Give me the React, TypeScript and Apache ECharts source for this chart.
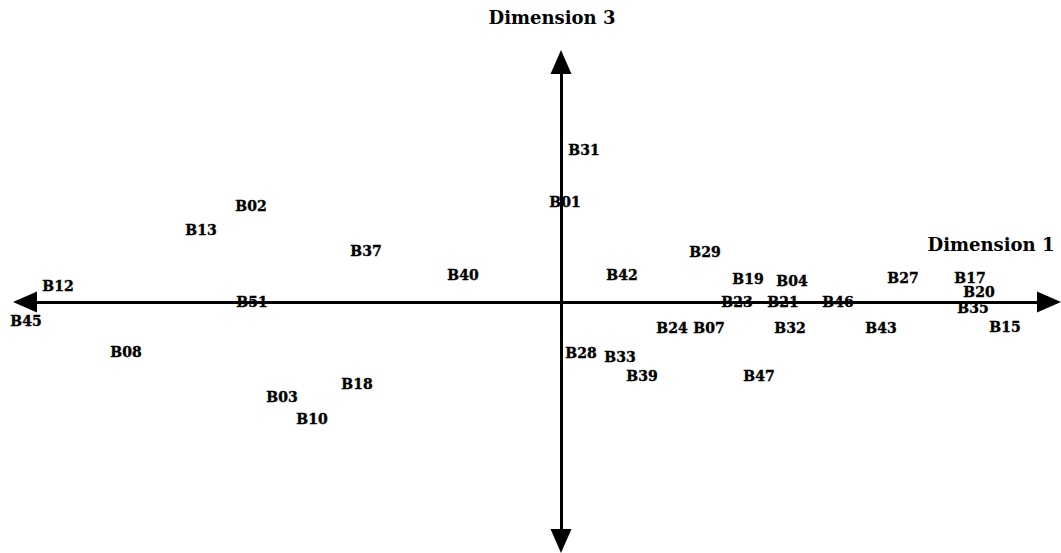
import React, { useEffect, useRef } from "react";
import * as echarts from "echarts";

// Brand labels and their coordinates on Dimension 1 (x) and Dimension 3 (y)
const names = [
  "B12", "B45", "B51", "B08", "B02", "B13", "B37", "B40", "B18", "B03", "B10",
  "B31", "B01", "B42", "B29", "B19", "B04", "B23", "B21", "B46", "B27", "B17",
  "B20", "B35", "B15", "B43", "B32", "B07", "B24", "B28", "B33", "B39", "B47",
];
const dim1 = [
  -5.03, -5.35, -3.09, -4.35, -3.1, -3.6, -1.95, -0.98, -2.04, -2.79, -2.49,
  0.23, 0.04, 0.61, 1.44, 1.87, 2.31, 1.76, 2.22, 2.77, 3.42, 4.09,
  4.18, 4.12, 4.44, 3.2, 2.29, 1.48, 1.11, 0.2, 0.59, 0.81, 1.98,
];
const dim3 = [
  0.16, -0.19, 0.0, -0.5, 0.96, 0.72, 0.51, 0.27, -0.82, -0.95, -1.17,
  1.52, 1.0, 0.27, 0.5, 0.23, 0.21, 0.0, 0.0, 0.0, 0.24, 0.24,
  0.1, -0.06, -0.25, -0.26, -0.26, -0.26, -0.26, -0.51, -0.55, -0.74, -0.74,
];
const xTitle = "Dimension 1";
const yTitle = "Dimension 3";

export default function App() {
  const ref = useRef<HTMLDivElement>(null);
  useEffect(() => {
    document.body.style.margin = "0";
    const chart = echarts.init(ref.current!, null, { renderer: "svg" });
    const axisLine = {
      onZero: true,
      symbol: ["triangle", "triangle"],
      symbolSize: [21, 24],
      lineStyle: { color: "#000", width: 3 },
    };
    chart.setOption({
      animation: false,
      backgroundColor: "#fff",
      grid: { left: 25, right: 12, top: 62, bottom: 12 },
      xAxis: {
        type: "value",
        min: -5.36,
        max: 4.88,
        axisLine,
        axisTick: { show: false },
        axisLabel: { show: false },
        splitLine: { show: false },
      },
      yAxis: {
        type: "value",
        min: -2.39,
        max: 2.4,
        axisLine,
        axisTick: { show: false },
        axisLabel: { show: false },
        splitLine: { show: false },
      },
      series: [
        {
          type: "scatter",
          symbol: "circle",
          symbolSize: 0,
          itemStyle: { color: "transparent" },
          data: names.map((n, i) => ({ name: n, value: [dim1[i], dim3[i]] })),
          label: {
            show: true,
            position: "inside",
            formatter: "{b}",
            fontFamily: "DejaVu Serif",
            fontWeight: "bold",
            fontSize: 14,
            color: "#000",
            opacity: 1,
            textBorderColor: "#000",
            textBorderWidth: 0.4,
          },
          z: 5,
        },
      ],
      graphic: [
        {
          type: "text",
          x: 552,
          y: 17,
          style: {
            text: yTitle,
            font: "bold 18px 'DejaVu Serif'",
            fill: "#000",
            align: "center",
            verticalAlign: "middle",
          },
        },
        {
          type: "text",
          x: 991,
          y: 244,
          style: {
            text: xTitle,
            font: "bold 18px 'DejaVu Serif'",
            fill: "#000",
            align: "center",
            verticalAlign: "middle",
          },
        },
      ],
    });
    return () => chart.dispose();
  }, []);
  return <div ref={ref} style={{ width: 1061, height: 553 }} />;
}
